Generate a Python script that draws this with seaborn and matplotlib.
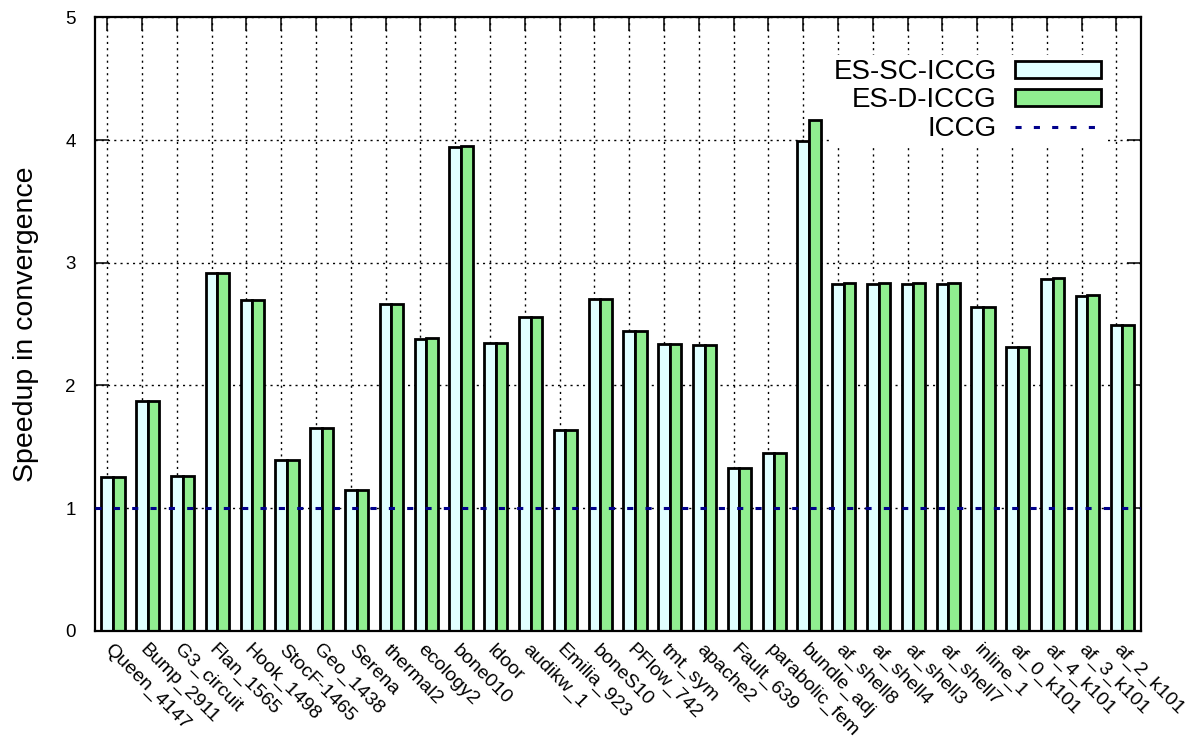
import numpy as np
import pandas as pd
import matplotlib
matplotlib.use("Agg")
import matplotlib.pyplot as plt
import seaborn as sns

# ---- data ----
matrices = ['Queen_4147', 'Bump_2911', 'G3_circuit', 'Flan_1565', 'Hook_1498',
            'StocF-1465', 'Geo_1438', 'Serena', 'thermal2', 'ecology2',
            'bone010', 'ldoor', 'audikw_1', 'Emilia_923', 'boneS10',
            'PFlow_742', 'tmt_sym', 'apache2', 'Fault_639', 'parabolic_fem',
            'bundle_adj', 'af_shell8', 'af_shell4', 'af_shell3', 'af_shell7',
            'inline_1', 'af_0_k101', 'af_4_k101', 'af_3_k101', 'af_2_k101']
es_sc_iccg = [1.249, 1.869, 1.263, 2.918, 2.694, 1.388, 1.649, 1.151, 2.667, 2.379,
              3.946, 2.343, 2.556, 1.636, 2.705, 2.440, 2.335, 2.327, 1.326, 1.445,
              3.992, 2.824, 2.827, 2.827, 2.824, 2.642, 2.316, 2.869, 2.730, 2.493]
es_d_iccg = [1.249, 1.869, 1.263, 2.918, 2.694, 1.388, 1.649, 1.151, 2.667, 2.384,
             3.951, 2.343, 2.561, 1.636, 2.705, 2.447, 2.340, 2.327, 1.326, 1.445,
             4.163, 2.834, 2.835, 2.835, 2.832, 2.642, 2.316, 2.876, 2.737, 2.493]
series_names = ['ES-SC-ICCG', 'ES-D-ICCG']
baseline_name = 'ICCG'
baseline_value = 1.0
yticks = [0, 1, 2, 3, 4, 5]
ylabel = 'Speedup in convergence'

df = pd.DataFrame({
    'matrix': matrices * 2,
    'speedup': es_sc_iccg + es_d_iccg,
    'method': [series_names[0]] * len(matrices) + [series_names[1]] * len(matrices),
})

# ---- style ----
sns.set_style("white")
plt.rcParams['font.family'] = ['Liberation Sans', 'DejaVu Sans']
plt.rcParams['text.color'] = 'black'
plt.rcParams['axes.labelcolor'] = 'black'
plt.rcParams['xtick.color'] = 'black'
plt.rcParams['ytick.color'] = 'black'
plt.rcParams['xtick.labelcolor'] = 'black'
plt.rcParams['ytick.labelcolor'] = 'black'

fig = plt.figure(figsize=(11.9, 7.41), dpi=100)
ax = fig.add_axes([0.0798, 0.1489, 0.9586 - 0.0798, 0.9764 - 0.1489])

sns.barplot(data=df, x='matrix', y='speedup', hue='method', order=matrices,
            hue_order=series_names, palette=['#e0ffff', '#90ee90'],
            saturation=1, width=2 / 3, edgecolor='black', linewidth=2.0,
            errorbar=None, ax=ax)

n = len(matrices)
ax.axhline(baseline_value, color='#00008b', lw=2.2, dashes=(2, 4), zorder=5,
           label=baseline_name)

ax.set_xlim(-0.520, n - 0.470)
ax.set_ylim(0, 5)
ax.set_yticks(yticks)
ax.set_yticklabels([str(t) for t in yticks])
ax.set_xticks(np.arange(n) - 1 / 6)
ax.set_xticklabels(matrices)
ax.set_xlabel('')
ax.set_ylabel(ylabel, fontsize=20.5, labelpad=19, color='black')

ax.set_axisbelow(True)
ax.grid(True, which='major', axis='both', linestyle=(0, (1.5, 3)), color='black', lw=1.0)

for s in ax.spines.values():
    s.set_visible(True)
    s.set_linewidth(1.6)
    s.set_color('black')

ax.tick_params(axis='both', direction='in', length=10, width=1.1, color='black',
               labelcolor='black', top=True, right=True, bottom=True, left=True)
ax.tick_params(axis='x', pad=12, labelsize=14)
ax.tick_params(axis='y', pad=14, labelsize=13.5)
plt.setp(ax.get_xticklabels(), rotation=-45, ha='left', va='center',
         rotation_mode='anchor')

# legend
old = ax.get_legend()
if old is not None:
    old.remove()
handles, labels = ax.get_legend_handles_labels()
order = [labels.index(series_names[0]), labels.index(series_names[1]),
         labels.index(baseline_name)]
leg = ax.legend([handles[i] for i in order], [labels[i] for i in order],
                loc='upper right', bbox_to_anchor=(0.9659, 0.9388),
                borderaxespad=0, borderpad=0.15, fontsize=20,
                markerfirst=False, handlelength=3.1, handleheight=0.55,
                handletextpad=0.65, labelspacing=0.08, frameon=True,
                fancybox=False)
leg.get_frame().set_facecolor('white')
leg.get_frame().set_edgecolor('none')
leg.get_frame().set_alpha(1)
for t in leg.get_texts():
    t.set_ha('right')
    t.set_color('black')

fig.savefig('out.png', dpi=100)
